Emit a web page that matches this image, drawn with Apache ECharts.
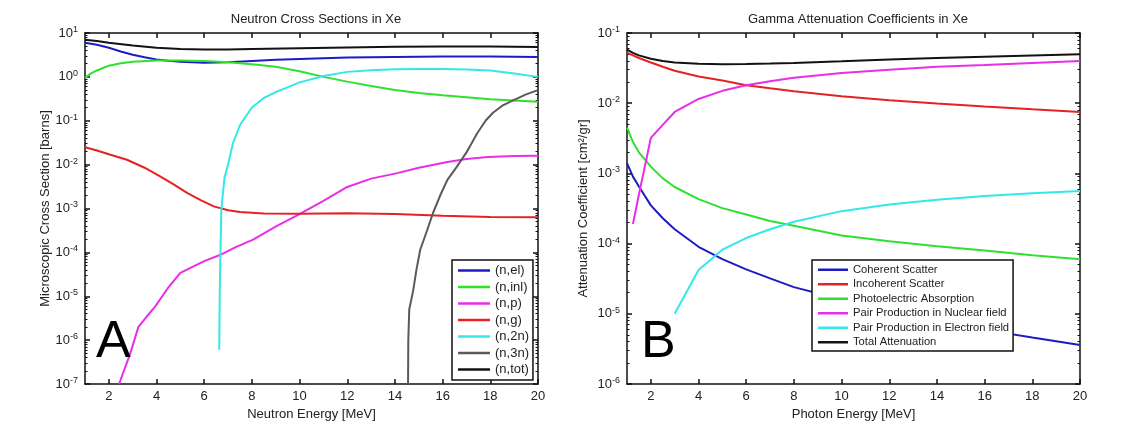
<!DOCTYPE html>
<html><head><meta charset="utf-8">
<script src="https://cdn.jsdelivr.net/npm/echarts@6/dist/echarts.min.js"></script>
<style>html,body{margin:0;padding:0;background:#fff}#c{width:1125px;height:427px}</style>
</head><body><div id="c"></div>
<script>
// ---------- Panel A: neutron cross sections (barns) ----------
const nEl  = [[1,6.0],[1.5,5.4],[2,4.6],[2.5,3.8],[3,3.2],[3.5,2.8],[4,2.5],[4.5,2.32],[5,2.2],[6,2.1],[7,2.15],[8,2.3],[9,2.45],[10,2.55],[12,2.75],[14,2.85],[16,2.9],[18,2.9],[20,2.85]];
const nInl = [[1,0.95],[1.25,1.2],[1.5,1.4],[2,1.8],[2.5,2.05],[3,2.2],[4,2.35],[5,2.35],[6,2.3],[7,2.15],[8,1.95],[9,1.7],[10,1.35],[11,1.0],[12,0.78],[13,0.62],[14,0.5],[15,0.43],[16,0.38],[18,0.31],[20,0.27]];
const nP   = [[2.43,1e-7],[2.9,5e-7],[3.24,2e-6],[3.6,3.5e-6],[3.94,5.8e-6],[4.5,1.6e-5],[5.0,3.4e-5],[5.55,4.8e-5],[6.0,6.3e-5],[6.66,8.7e-5],[7.3,1.3e-4],[8.05,1.95e-4],[9.05,4e-4],[9.9,7e-4],[11,1.5e-3],[12,3.1e-3],[13,4.8e-3],[14.1,6.4e-3],[15,8.5e-3],[16.2,0.0115],[17,0.0135],[17.9,0.015],[19,0.0158],[20,0.016]];
const nG   = [[1,0.025],[1.5,0.021],[2,0.0172],[2.76,0.0129],[3.5,0.0085],[4.15,0.0054],[4.7,0.0036],[5.3,0.00224],[5.85,0.00155],[6.4,0.00112],[7,0.00091],[7.5,0.00083],[8.5,0.00077],[10,0.00076],[12,0.00078],[14,0.00075],[16,0.00068],[18,0.00064],[20,0.00063]];
const n2n  = [[6.63,6e-7],[6.65,1e-5],[6.68,1e-4],[6.72,1e-3],[6.85,5e-3],[7.0,1e-2],[7.2,3e-2],[7.5,8e-2],[8.0,0.2],[8.5,0.33],[9,0.45],[10,0.75],[11,1.05],[12,1.3],[13,1.42],[14,1.5],[15,1.52],[16,1.52],[17,1.48],[18,1.4],[19,1.2],[20,1.0]];
const n3n  = [[14.55,1e-7],[14.56,1e-6],[14.6,5e-6],[14.77,1.4e-5],[14.9,4e-5],[15.06,1.15e-4],[15.35,3.2e-4],[15.6,8e-4],[15.9,2e-3],[16.2,4.5e-3],[16.6,9e-3],[17.0,0.019],[17.45,0.052],[17.8,0.1],[18.1,0.15],[18.5,0.22],[19,0.3],[19.5,0.4],[20,0.5]];
const nTot = [[1,7.0],[1.5,6.6],[2,6.0],[3,5.2],[4,4.6],[5,4.3],[6,4.2],[7,4.2],[8,4.3],[10,4.5],[12,4.7],[14,4.85],[16,4.95],[18,4.95],[20,4.8]];
const neutronNames = ['(n,el)','(n,inl)','(n,p)','(n,g)','(n,2n)','(n,3n)','(n,tot)'];

// ---------- Panel B: gamma attenuation (cm2/gr) ----------
const gammaE     = [1, 1.25, 1.5, 2, 2.5, 3, 4, 5, 6, 7, 8, 10, 12, 14, 16, 18, 20];
const coherent   = [1.4e-3, 9e-4, 6.5e-4, 3.5e-4, 2.3e-4, 1.6e-4, 9e-5, 6e-5, 4.3e-5, 3.2e-5, 2.4e-5, 1.6e-5, 1.1e-5, 7.8e-6, 5.9e-6, 4.6e-6, 3.6e-6];
const incoherent = [0.052, 0.048, 0.044, 0.038, 0.033, 0.029, 0.024, 0.021, 0.018, 0.0163, 0.0148, 0.0126, 0.011, 0.0099, 0.009, 0.0082, 0.0075];
const photo      = [4.5e-3, 2.8e-3, 2.0e-3, 1.25e-3, 8.5e-4, 6.4e-4, 4.3e-4, 3.2e-4, 2.6e-4, 2.1e-4, 1.8e-4, 1.3e-4, 1.08e-4, 9.2e-5, 8e-5, 6.8e-5, 6e-5];
const pairNuc    = [null, 1.9e-4, 5e-4, 3.2e-3, 4.9e-3, 7.5e-3, 0.0115, 0.015, 0.018, 0.0205, 0.023, 0.027, 0.030, 0.033, 0.035, 0.0375, 0.040];
const pairElec   = [null, null, null, null, null, 1e-5, 4.2e-5, 8.2e-5, 1.2e-4, 1.6e-4, 2.05e-4, 2.9e-4, 3.6e-4, 4.2e-4, 4.75e-4, 5.2e-4, 5.6e-4];
const totalAtt   = [0.058, 0.052, 0.048, 0.043, 0.040, 0.038, 0.0365, 0.036, 0.0362, 0.0368, 0.0375, 0.0395, 0.042, 0.044, 0.046, 0.048, 0.05];
const gammaNames = ['Coherent Scatter','Incoherent Scatter','Photoelectric Absorption','Pair Production in Nuclear field','Pair Production in Electron field','Total Attenuation'];

// ---------- ticks ----------
const xTicks = [2, 4, 6, 8, 10, 12, 14, 16, 18, 20];
const yTicksA = [1e-7, 1e-6, 1e-5, 1e-4, 1e-3, 1e-2, 1e-1, 1, 10];
const yTicksB = [1e-6, 1e-5, 1e-4, 1e-3, 1e-2, 1e-1];
function minorOf(majors){ const out=[]; for(let i=0;i<majors.length-1;i++){ for(let k=2;k<=9;k++) out.push(+(k*majors[i]).toPrecision(3)); } return out; }

const C = {blue:'#1c1cc4', green:'#2fe02f', mag:'#e82ee8', red:'#e42222', cyan:'#34e8e8', gray:'#5a5a5a', black:'#121212'};
const FONT = 'Liberation Sans, Arial, sans-serif';
const TXT = '#222';

function supLabel(v){ const e = Math.round(Math.log10(v)); return '{b|10}{s|' + e + '}'; }
const rich = { b:{fontSize:13, color:TXT, fontFamily:FONT}, s:{fontSize:9, color:TXT, fontFamily:FONT, verticalAlign:'top', padding:[0,0,7,0]} };

function xAxes(grid, name){
  return [
    {type:'value', gridIndex:grid, min:1, max:20, position:'bottom', name:name, nameLocation:'middle', nameGap:21,
     nameTextStyle:{fontSize:13, color:TXT, fontFamily:FONT},
     axisLine:{show:true, lineStyle:{color:'#111', width:1.5}},
     axisTick:{show:true, inside:true, length:5, customValues:xTicks, lineStyle:{color:'#111', width:1.5}},
     axisLabel:{show:true, customValues:xTicks, fontSize:13, color:TXT, fontFamily:FONT, margin:6},
     splitLine:{show:false}},
    {type:'value', gridIndex:grid, min:1, max:20, position:'top',
     axisLine:{show:true, lineStyle:{color:'#111', width:1.5}},
     axisTick:{show:true, inside:true, length:5, customValues:xTicks, lineStyle:{color:'#111', width:1.5}},
     axisLabel:{show:false}, splitLine:{show:false}}
  ];
}
function yAxes(grid, min, max, majors, name, gap){
  const minors = minorOf(majors);
  const base = {type:'log', logBase:10, gridIndex:grid, min:min, max:max, splitLine:{show:false}};
  return [
    Object.assign({}, base, {position:'left', name:name, nameLocation:'middle', nameGap:gap,
      nameTextStyle:{fontSize:13, color:TXT, fontFamily:FONT},
      axisLine:{show:true, lineStyle:{color:'#111', width:1.5}},
      axisTick:{show:true, inside:true, length:5, customValues:majors, lineStyle:{color:'#111', width:1.5}},
      axisLabel:{show:true, customValues:majors, formatter:supLabel, rich:rich, margin:7}}),
    Object.assign({}, base, {position:'left', axisLine:{show:false},
      axisTick:{show:true, inside:true, length:2.5, customValues:minors, lineStyle:{color:'#111', width:1}},
      axisLabel:{show:false}}),
    Object.assign({}, base, {position:'right', axisLine:{show:true, lineStyle:{color:'#111', width:1.5}},
      axisTick:{show:true, inside:true, length:5, customValues:majors, lineStyle:{color:'#111', width:1.5}},
      axisLabel:{show:false}}),
    Object.assign({}, base, {position:'right', axisLine:{show:false},
      axisTick:{show:true, inside:true, length:2.5, customValues:minors, lineStyle:{color:'#111', width:1}},
      axisLabel:{show:false}})
  ];
}

function lineA(name, data, color){
  return {type:'line', name:name, xAxisIndex:0, yAxisIndex:0, data:data, showSymbol:false, symbol:'none',
    smooth:false, lineStyle:{color:color, width:2}, itemStyle:{color:color}, animation:false};
}
function lineB(name, vals, color){
  return {type:'line', name:name, xAxisIndex:2, yAxisIndex:4, data:gammaE.map((e,i)=>[e, vals[i]]), showSymbol:false, symbol:'none',
    connectNulls:false, lineStyle:{color:color, width:2}, itemStyle:{color:color}, animation:false};
}

const chart = echarts.init(document.getElementById('c'), null, {renderer:'canvas'});
chart.setOption({
  backgroundColor:'#fff',
  animation:false,
  textStyle:{fontFamily:FONT},
  title:[
    {text:'Neutron Cross Sections in Xe', left:311, top:8, textAlign:'center', textStyle:{fontSize:13, fontWeight:'normal', color:TXT, fontFamily:FONT}},
    {text:'Gamma Attenuation Coefficients in Xe', left:853, top:8, textAlign:'center', textStyle:{fontSize:13, fontWeight:'normal', color:TXT, fontFamily:FONT}}
  ],
  grid:[
    {left:85, top:33, width:453, height:351},
    {left:627, top:33, width:453, height:351}
  ],
  xAxis: xAxes(0, 'Neutron Energy [MeV]').concat(xAxes(1, 'Photon Energy [MeV]')),
  yAxis: yAxes(0, 1e-7, 10, yTicksA, 'Microscopic Cross Section [barns]', 32)
          .concat(yAxes(1, 1e-6, 0.1, yTicksB, 'Attenuation Coefficient [cm\u00B2/gr]', 37)),
  legend:[
    {data:neutronNames, left:452, top:260, orient:'vertical', icon:'rect', itemWidth:32, itemHeight:2.5, itemGap:3.5,
     padding:[4,4,4,6], borderColor:'#111', borderWidth:1.5, backgroundColor:'#fff', selectedMode:false,
     textStyle:{fontSize:13, color:TXT, fontFamily:FONT, lineHeight:13}},
    {data:gammaNames, left:812, top:260, orient:'vertical', icon:'rect', itemWidth:30, itemHeight:2.5, itemGap:3.0,
     padding:[4,4,3,6], borderColor:'#111', borderWidth:1.5, backgroundColor:'#fff', selectedMode:false,
     textStyle:{fontSize:11.2, color:TXT, fontFamily:FONT, lineHeight:11.5}}
  ],
  graphic:[
    {type:'text', left:96, top:317, style:{text:'A', font:'52px '+FONT, fill:'#000'}, z:100},
    {type:'text', left:641, top:317, style:{text:'B', font:'52px '+FONT, fill:'#000'}, z:100}
  ],
  series:[
    lineA('(n,el)', nEl, C.blue),
    lineA('(n,inl)', nInl, C.green),
    lineA('(n,p)', nP, C.mag),
    lineA('(n,g)', nG, C.red),
    lineA('(n,2n)', n2n, C.cyan),
    lineA('(n,3n)', n3n, C.gray),
    lineA('(n,tot)', nTot, C.black),
    lineB('Coherent Scatter', coherent, C.blue),
    lineB('Incoherent Scatter', incoherent, C.red),
    lineB('Photoelectric Absorption', photo, C.green),
    lineB('Pair Production in Nuclear field', pairNuc, C.mag),
    lineB('Pair Production in Electron field', pairElec, C.cyan),
    lineB('Total Attenuation', totalAtt, C.black)
  ]
});
</script>
</body></html>
